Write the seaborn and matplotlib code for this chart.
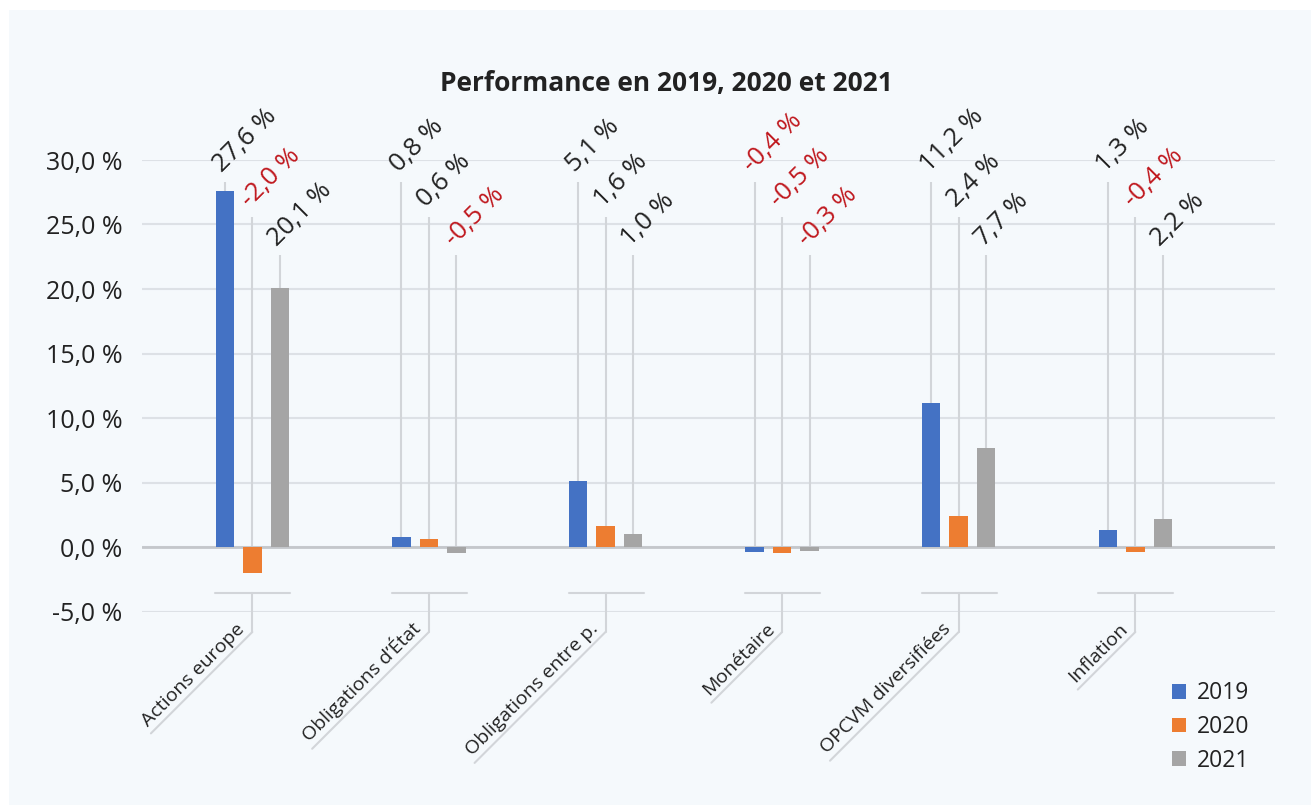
import numpy as np
import pandas as pd
import matplotlib
matplotlib.use("Agg")
import matplotlib.pyplot as plt
import seaborn as sns
from matplotlib.lines import Line2D
from matplotlib.patches import Patch, Rectangle
from matplotlib.transforms import IdentityTransform
from matplotlib.font_manager import FontProperties

# ---------------- data ----------------
categories = ["Actions europe", "Obligations d\u2019\u00c9tat", "Obligations entre p.",
              "Mon\u00e9taire", "OPCVM diversifi\u00e9es", "Inflation"]
years = ["2019", "2020", "2021"]
v2019 = [27.6, 0.8, 5.1, -0.4, 11.2, 1.3]
v2020 = [-2.0, 0.6, 1.6, -0.5, 2.4, -0.4]
v2021 = [20.1, -0.5, 1.0, -0.3, 7.7, 2.2]
yticks = [-5, 0, 5, 10, 15, 20, 25, 30]
title = "Performance en 2019, 2020 et 2021"

# ---------------- style ----------------
colors = ["#4472c4", "#ed7d31", "#a5a5a5"]
CARD = "#f5f9fc"
TXT = "#222222"
RED = "#c0191f"
GRID = "#dde1e6"
LEAD = "#d2d5d9"
levels = [28.3, 25.6, 22.6]   # heights of the leader lines per series

sns.set_style("white")
plt.rcParams['font.family'] = ['Open Sans', 'DejaVu Sans']

W, H = 1311, 805
fig = plt.figure(figsize=(W / 100, H / 100), dpi=100, facecolor="white")
fig.add_artist(Rectangle((9 / W, 0), 1 - 9 / W, 1 - 10 / H, transform=fig.transFigure,
                         facecolor=CARD, edgecolor="none", zorder=-10))

ax = fig.add_axes([142 / W, 1 - 611.5 / H, (1275 - 142) / W, (611.5 - 160) / H])
ax.patch.set_alpha(0)

df = pd.DataFrame({
    "cat": categories * 3,
    "year": np.repeat(years, len(categories)),
    "val": v2019 + v2020 + v2021,
})
series = {"2019": v2019, "2020": v2020, "2021": v2021}

sns.barplot(data=df, x="cat", y="val", hue="year", order=categories, hue_order=years,
            palette=colors, saturation=1, width=0.467, gap=0.327, legend=False,
            ax=ax, zorder=3, linewidth=0)

ax.set_ylim(-5, 30)
ax.set_xlim(-0.6246, 5.791)
ax.set_yticks(yticks)
ax.set_yticklabels([f"{t:.1f}".replace(".", ",") + " %" for t in yticks])
ax.tick_params(axis="y", length=0, pad=14, labelsize=18, labelcolor=TXT)
ax.set_xticks([])
ax.set_xlabel("")
ax.set_ylabel("")
for s in ax.spines.values():
    s.set_visible(False)
ax.grid(axis="y", color=GRID, lw=1.5, zorder=0)
ax.set_axisbelow(True)
ax.axhline(0, color="#c4c7cb", lw=2, zorder=2)

# leader lines + value labels from the drawn bars
for p in ax.patches:
    xc = p.get_x() + p.get_width() / 2
    j = int(round(xc))
    if j < 0 or j >= len(categories) or p.get_width() <= 0:
        continue
    off = xc - j
    k = 0 if off < -0.05 else (2 if off > 0.05 else 1)
    val = series[years[k]][j]
    ax.plot([xc, xc], [0, levels[k]], color=LEAD, lw=1.5, zorder=1,
            solid_capstyle="butt")
    lab = f"{val:.1f}".replace(".", ",") + " %"
    ax.annotate(lab, (xc, levels[k]), xytext=(-2, 6.5), textcoords="offset points",
                rotation=45, rotation_mode="anchor", ha="left", va="baseline",
                fontsize=18.5, color=RED if val < 0 else TXT, annotation_clip=False)

# category labels with bracket + underline
r = fig.canvas.get_renderer()
fp = FontProperties(family=["Open Sans", "DejaVu Sans"], size=14)
y_br = H - 593
y_v = H - 632
for j, cat in enumerate(categories):
    cx = ax.transData.transform((j, 0))[0]
    w, h, d = r.get_text_width_height_descent(cat, fp, ismath=False)
    fig.add_artist(Line2D([cx - 37, cx + 38], [y_br, y_br], transform=IdentityTransform(),
                          color=LEAD, lw=1.5))
    fig.add_artist(Line2D([cx, cx], [y_br, y_v], transform=IdentityTransform(),
                          color=LEAD, lw=1.5))
    dd = (w + 6) / np.sqrt(2)
    fig.add_artist(Line2D([cx, cx - dd], [y_v, y_v - dd], transform=IdentityTransform(),
                          color=LEAD, lw=1.5))
    fig.text(cx - 7, y_v + 2, cat, transform=IdentityTransform(), rotation=45,
             rotation_mode="anchor", ha="right", va="baseline", fontproperties=fp,
             color=TXT)

# legend
handles = [Patch(facecolor=c, edgecolor="none") for c in colors]
leg = fig.legend(handles, years, loc="center left", bbox_to_anchor=(1172 / W, 1 - 727 / H),
                 frameon=False, fontsize=16.5, handlelength=0.62, handleheight=0.62,
                 handletextpad=0.45, labelspacing=0.42, borderpad=0, borderaxespad=0)
for t in leg.get_texts():
    t.set_color(TXT)

fig.text(666 / W, 1 - 83 / H, title, ha="center", va="center", fontsize=19,
         fontweight="bold", color=TXT)

fig.savefig("out.png", dpi=100, facecolor="white")
